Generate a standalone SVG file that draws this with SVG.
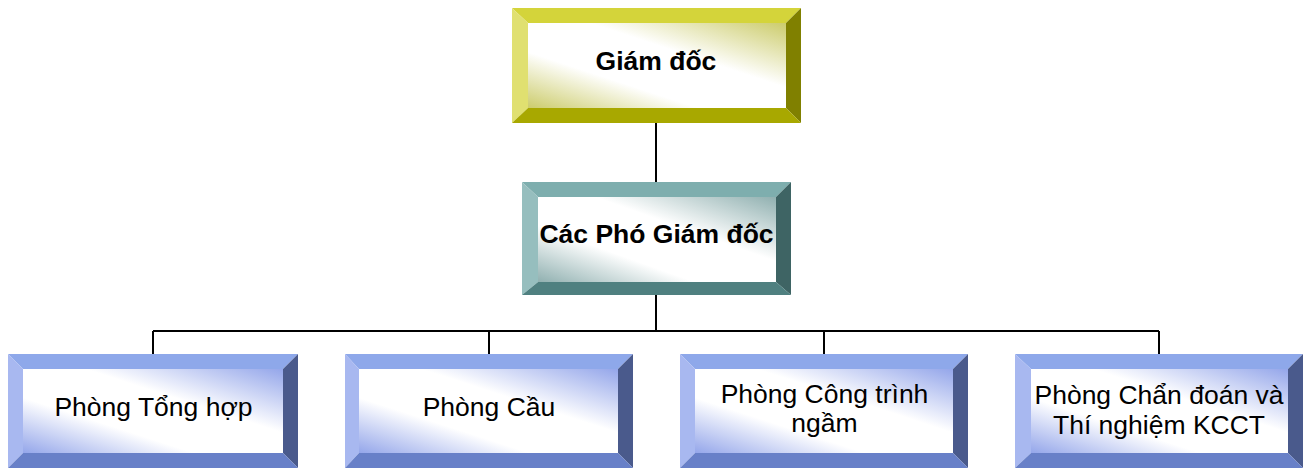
<svg xmlns="http://www.w3.org/2000/svg" width="1311" height="468" viewBox="0 0 1311 468">
  <defs>
    <linearGradient id="faceY" x1="0" y1="1" x2="1" y2="0">
      <stop offset="0" stop-color="#cccc6c"/>
      <stop offset="0.33" stop-color="#ffffff"/>
      <stop offset="0.62" stop-color="#ffffff"/>
      <stop offset="1" stop-color="#cccc6c"/>
    </linearGradient>
    <linearGradient id="faceT" x1="0" y1="1" x2="1" y2="0">
      <stop offset="0" stop-color="#90b0b0"/>
      <stop offset="0.33" stop-color="#ffffff"/>
      <stop offset="0.62" stop-color="#ffffff"/>
      <stop offset="1" stop-color="#90b0b0"/>
    </linearGradient>
    <linearGradient id="faceB" x1="0" y1="1" x2="1" y2="0">
      <stop offset="0" stop-color="#94a6ea"/>
      <stop offset="0.33" stop-color="#ffffff"/>
      <stop offset="0.62" stop-color="#ffffff"/>
      <stop offset="1" stop-color="#94a6ea"/>
    </linearGradient>
  </defs>
  <style>
    .y-top { fill: #d4d43a; }
    .y-left { fill: #e0e070; }
    .y-right { fill: #808000; }
    .y-bot { fill: #a8a800; }
    .y-face { fill: url(#faceY); }
    .t-top { fill: #7eaeae; }
    .t-left { fill: #96bebe; }
    .t-right { fill: #3e6464; }
    .t-bot { fill: #4f8080; }
    .t-face { fill: url(#faceT); }
    .b-top { fill: #8ea8ea; }
    .b-left { fill: #a8b8f0; }
    .b-right { fill: #4a5a8c; }
    .b-bot { fill: #6880c8; }
    .b-face { fill: url(#faceB); }
    .head { font-family: "Liberation Sans", Arial, sans-serif; font-size: 26.5px; font-weight: bold; fill: #000; text-anchor: middle; }
    .label { font-family: "Liberation Sans", Arial, sans-serif; font-size: 26.5px; fill: #000; text-anchor: middle; }
    .wire { fill: none; stroke: #000; stroke-width: 2; }
  </style>

  <!-- connectors -->
  <g id="connectors">
    <path class="wire" d="M656 123 V182"/>
    <path class="wire" d="M656 295 V331"/>
    <path class="wire" d="M153 331 H1159"/>
    <path class="wire" d="M153 331 V354"/>
    <path class="wire" d="M489 331 V354"/>
    <path class="wire" d="M824 331 V354"/>
    <path class="wire" d="M1159 331 V354"/>
  </g>

  <!-- Giám đốc -->
  <g id="giam-doc">
    <polygon class="y-top" points="512,8 801,8 786,23 528,23"/>
    <polygon class="y-left" points="512,8 528,23 528,108 512,123"/>
    <polygon class="y-right" points="801,8 801,123 786,108 786,23"/>
    <polygon class="y-bot" points="512,123 528,108 786,108 801,123"/>
    <rect class="y-face" x="528" y="23" width="258" height="85"/>
    <text class="head" x="656" y="70">Giám đốc</text>
  </g>

  <!-- Các Phó Giám đốc -->
  <g id="pho-giam-doc">
    <polygon class="t-top" points="522,182 791,182 776,197 538,197"/>
    <polygon class="t-left" points="522,182 538,197 538,282 522,295"/>
    <polygon class="t-right" points="791,182 791,295 776,282 776,197"/>
    <polygon class="t-bot" points="522,295 538,282 776,282 791,295"/>
    <rect class="t-face" x="538" y="197" width="238" height="85"/>
    <text class="head" x="656.5" y="243">Các Phó Giám đốc</text>
  </g>

  <!-- Phòng Tổng hợp -->
  <g id="phong-tong-hop">
    <polygon class="b-top" points="8,354 298,354 283,369 23,369"/>
    <polygon class="b-left" points="8,354 23,369 23,453 8,468"/>
    <polygon class="b-right" points="298,354 298,468 283,453 283,369"/>
    <polygon class="b-bot" points="8,468 23,453 283,453 298,468"/>
    <rect class="b-face" x="23" y="369" width="260" height="84"/>
    <text class="label" x="153.5" y="416">Phòng Tổng hợp</text>
  </g>

  <!-- Phòng Cầu -->
  <g id="phong-cau">
    <polygon class="b-top" points="345,354 633,354 618,369 359,369"/>
    <polygon class="b-left" points="345,354 359,369 359,453 345,468"/>
    <polygon class="b-right" points="633,354 633,468 618,453 618,369"/>
    <polygon class="b-bot" points="345,468 359,453 618,453 633,468"/>
    <rect class="b-face" x="359" y="369" width="259" height="84"/>
    <text class="label" x="489" y="416">Phòng Cầu</text>
  </g>

  <!-- Phòng Công trình ngầm -->
  <g id="phong-cong-trinh-ngam">
    <polygon class="b-top" points="680,354 968,354 953,369 695,369"/>
    <polygon class="b-left" points="680,354 695,369 695,453 680,468"/>
    <polygon class="b-right" points="968,354 968,468 953,453 953,369"/>
    <polygon class="b-bot" points="680,468 695,453 953,453 968,468"/>
    <rect class="b-face" x="695" y="369" width="258" height="84"/>
    <text class="label" x="824.5" y="403">Phòng Công trình</text>
    <text class="label" x="824.5" y="432">ngầm</text>
  </g>

  <!-- Phòng Chẩn đoán và Thí nghiệm KCCT -->
  <g id="phong-chan-doan">
    <polygon class="b-top" points="1015,354 1303,354 1288,369 1031,369"/>
    <polygon class="b-left" points="1015,354 1031,369 1031,453 1015,468"/>
    <polygon class="b-right" points="1303,354 1303,468 1288,453 1288,369"/>
    <polygon class="b-bot" points="1015,468 1031,453 1288,453 1303,468"/>
    <rect class="b-face" x="1031" y="369" width="257" height="84"/>
    <text class="label" x="1159" y="404">Phòng Chẩn đoán và</text>
    <text class="label" x="1159" y="434">Thí nghiệm KCCT</text>
  </g>
</svg>
